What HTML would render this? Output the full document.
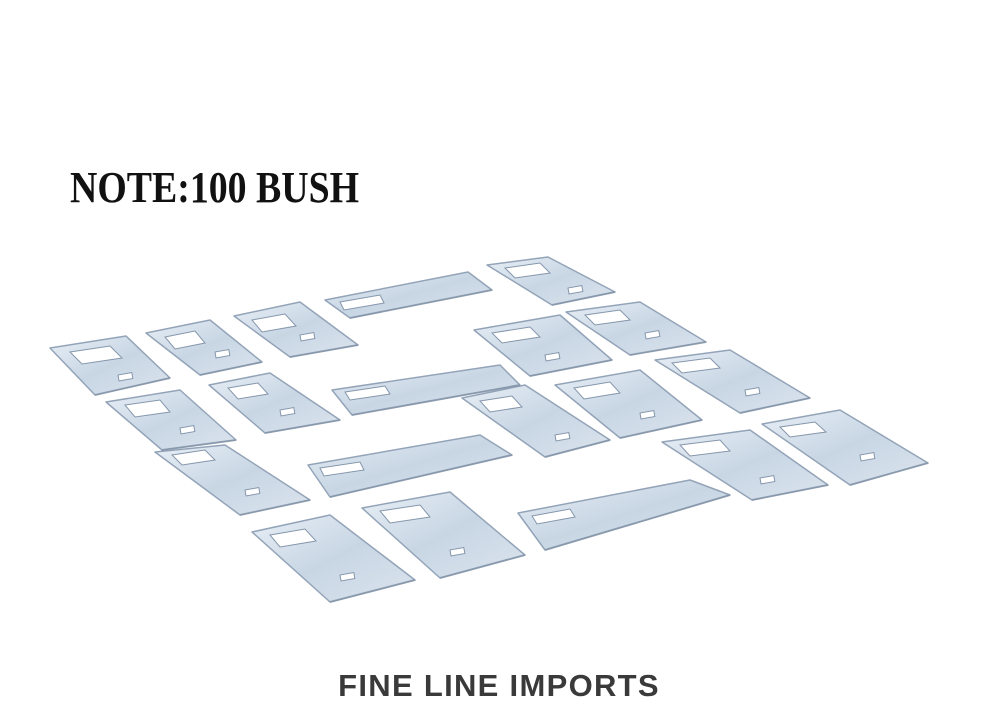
<!DOCTYPE html>
<html><head><meta charset="utf-8"><style>
html,body{margin:0;padding:0;background:#fff;width:1000px;height:715px;overflow:hidden}
.note{position:absolute;left:70px;top:162px;font-family:"Liberation Serif",serif;font-weight:bold;font-size:44px;color:#111;white-space:nowrap;transform:scaleX(0.86);transform-origin:left}
.logo{position:absolute;left:333px;top:668px;width:332px;text-align:center;font-family:"Liberation Sans",sans-serif;font-weight:bold;font-size:31px;color:#3a3a3a;letter-spacing:1.3px;white-space:nowrap}
svg{position:absolute;left:0;top:0}
</style></head><body>
<svg width="1000" height="715" viewBox="0 0 1000 715">
<defs>
<linearGradient id="g" x1="0" y1="0" x2="1" y2="1">
<stop offset="0" stop-color="#e8eff6"/><stop offset="0.5" stop-color="#c8d6e4"/><stop offset="1" stop-color="#dbe4ee"/>
</linearGradient>
</defs>
<g fill="url(#g)" stroke="#94a4b8" stroke-width="1.5" stroke-linejoin="round">
<polygon points="50,348 126,336 170,378 95,395"/>
<polygon points="146,333 210,320 262,362 200,375"/>
<polygon points="234,316 300,302 358,345 290,357"/>
<polygon points="325,300 468,272 492,290 350,318"/>
<polygon points="487,265 548,257 615,292 552,305"/>
<polygon points="474,330 560,315 612,360 530,376"/>
<polygon points="566,312 640,302 706,342 630,355"/>
<polygon points="106,402 180,390 236,440 162,450"/>
<polygon points="209,385 270,373 340,420 265,433"/>
<polygon points="332,390 500,365 520,385 352,415"/>
<polygon points="462,398 525,385 610,440 545,457"/>
<polygon points="555,385 640,370 702,420 620,438"/>
<polygon points="655,360 730,350 810,398 740,413"/>
<polygon points="155,452 225,445 310,500 240,515"/>
<polygon points="308,465 480,435 512,455 330,497"/>
<polygon points="762,424 840,410 928,463 850,485"/>
<polygon points="662,442 750,430 828,485 752,500"/>
<polygon points="252,532 330,515 415,580 330,602"/>
<polygon points="362,508 450,492 525,555 440,578"/>
<polygon points="518,513 690,480 730,495 545,550"/>
</g>
<g fill="#fff" stroke="#8596ab" stroke-width="1">
<polygon points="70,352 110,346 122,358 82,364"/>
<polygon points="165,337 195,331 205,343 175,349"/>
<polygon points="252,320 285,314 296,326 262,332"/>
<polygon points="340,302 380,295 384,303 344,310"/>
<polygon points="505,268 540,263 550,273 515,278"/>
<polygon points="492,333 530,327 540,337 502,343"/>
<polygon points="585,315 620,310 630,320 595,325"/>
<polygon points="125,405 160,400 170,412 135,417"/>
<polygon points="228,388 258,383 268,394 238,399"/>
<polygon points="345,392 385,386 390,394 350,400"/>
<polygon points="480,401 512,396 522,407 490,412"/>
<polygon points="574,388 610,382 620,393 584,399"/>
<polygon points="672,363 710,358 720,368 682,373"/>
<polygon points="172,455 205,450 215,460 182,465"/>
<polygon points="320,468 360,462 364,470 324,476"/>
<polygon points="780,427 815,422 826,432 790,437"/>
<polygon points="680,445 720,440 730,451 690,456"/>
<polygon points="270,535 305,529 316,541 280,547"/>
<polygon points="380,511 420,505 430,517 390,523"/>
<polygon points="532,516 570,509 575,517 537,524"/>
</g>
<g fill="#fff" stroke="#8596ab" stroke-width="1">
<rect x="118" y="375" width="14" height="6" transform="rotate(-10 118 375)"/>
<rect x="215" y="352" width="14" height="6" transform="rotate(-10 215 352)"/>
<rect x="300" y="335" width="14" height="6" transform="rotate(-10 300 335)"/>
<rect x="568" y="288" width="14" height="6" transform="rotate(-10 568 288)"/>
<rect x="545" y="355" width="14" height="6" transform="rotate(-10 545 355)"/>
<rect x="645" y="333" width="14" height="6" transform="rotate(-10 645 333)"/>
<rect x="180" y="428" width="14" height="6" transform="rotate(-10 180 428)"/>
<rect x="280" y="410" width="14" height="6" transform="rotate(-10 280 410)"/>
<rect x="555" y="435" width="14" height="6" transform="rotate(-10 555 435)"/>
<rect x="640" y="413" width="14" height="6" transform="rotate(-10 640 413)"/>
<rect x="745" y="390" width="14" height="6" transform="rotate(-10 745 390)"/>
<rect x="245" y="490" width="14" height="6" transform="rotate(-10 245 490)"/>
<rect x="860" y="455" width="14" height="6" transform="rotate(-10 860 455)"/>
<rect x="760" y="478" width="14" height="6" transform="rotate(-10 760 478)"/>
<rect x="340" y="575" width="14" height="6" transform="rotate(-10 340 575)"/>
<rect x="450" y="550" width="14" height="6" transform="rotate(-10 450 550)"/>
</g>
<g fill="none" stroke="#7f8fa3" stroke-width="2" opacity="0.55">
<polyline points="95,395 170,378"/><polyline points="200,375 262,362"/><polyline points="290,357 358,345"/>
<polyline points="350,318 492,290"/><polyline points="552,305 615,292"/><polyline points="530,376 612,360"/>
<polyline points="630,355 706,342"/><polyline points="162,450 236,440"/><polyline points="265,433 340,420"/>
<polyline points="352,415 520,385"/><polyline points="545,457 610,440"/><polyline points="620,438 702,420"/>
<polyline points="740,413 810,398"/><polyline points="240,515 310,500"/><polyline points="330,497 512,455"/>
<polyline points="850,485 928,463"/><polyline points="752,500 828,485"/><polyline points="330,602 415,580"/>
<polyline points="440,578 525,555"/><polyline points="545,550 730,495"/>
</g>
</svg>
<div class="note">NOTE:100 BUSH</div>
<div class="logo">FINE LINE IMPORTS</div>
</body></html>
